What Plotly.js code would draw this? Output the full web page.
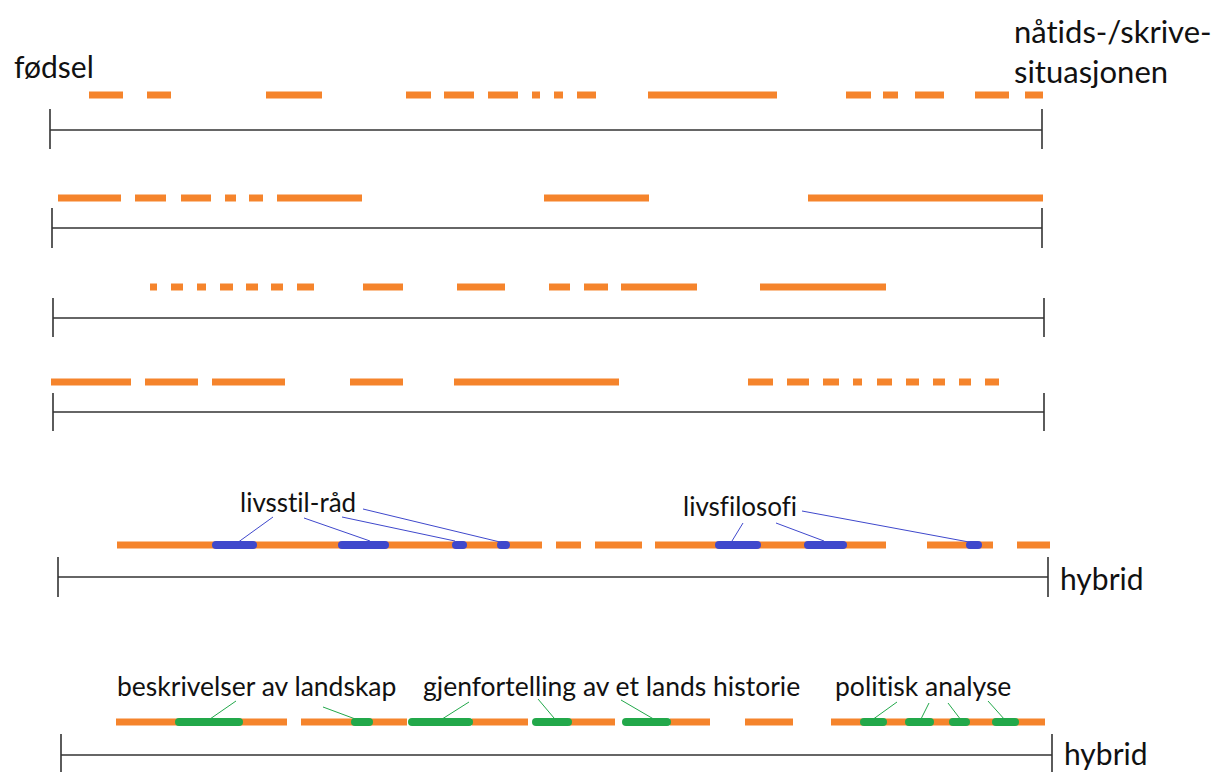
<!DOCTYPE html>
<html>
<head>
<meta charset="utf-8">
<script src="https://cdn.plot.ly/plotly-3.0.1.min.js"></script>
<style>html,body{margin:0;padding:0;background:#fff;}#chart{width:1222px;height:772px;}
text{font-variant-ligatures:none;font-feature-settings:"liga" 0;}</style>
</head>
<body>
<div id="chart"></div>
<script>
// ---- data ----
// timeline rows: axis span (birth -> now) and vertical levels
const rowAxisStart = [50, 52, 53, 53, 58, 61];
const rowAxisEnd   = [1042, 1042, 1044, 1044, 1048, 1052];
const rowAxisY     = [130, 228, 318, 412, 577, 755];
const rowTickTop   = [109, 208, 298, 393, 557, 734];
const rowTickBot   = [149, 248, 337, 431, 597, 772];
const rowDashY     = [95, 198, 287, 382, 545, 722];

// orange text-type segments per row [start, end]
const row1Segments = [[89,123],[147,171],[266,322],[406,431],[444,474],[488,518],[532,540],[554,563],[577,596],[648,777],[846,871],[883,898],[915,944],[975,1009],[1025,1043]];
const row2Segments = [[58,121],[135,166],[181,211],[225,236],[249,263],[277,362],[544,649],[808,1043]];
const row3Segments = [[150,157],[171,183],[197,206],[220,233],[246,258],[271,283],[297,314],[363,403],[457,505],[549,570],[584,608],[621,697],[760,886]];
const row4Segments = [[51,131],[145,198],[212,285],[350,403],[454,619],[748,773],[787,809],[823,839],[853,862],[877,892],[906,919],[933,945],[959,971],[985,999]];
const row5Segments = [[117,542],[556,581],[595,642],[655,886],[927,993],[1017,1050]];
const row6Segments = [[116,287],[301,407],[472,528],[569,615],[670,710],[745,793],[831,1045]];

// embedded genre segments
const livsstilSegments = [[216,253],[342,385],[456,463],[501,506]];
const livsfilosofiSegments = [[719,757],[808,843],[970,978]];
const landskapSegments = [[179,239],[355,369]];
const historieSegments = [[412,469],[536,568],[626,667]];
const politikkSegments = [[864,883],[909,930],[953,966],[996,1015]];

// leader lines [x0,y0,x1,y1]
const livsstilLeaders = [[273,517,237,543],[304,518,370,541],[342,517,455,541],[363,509,500,542]];
const livsfilosofiLeaders = [[743,523,732,541],[776,523,824,541],[802,511,969,542]];
const landskapLeaders = [[236,701,210,719],[323,707,358,720]];
const historieLeaders = [[469,702,439,721],[538,699,554,718],[621,700,657,721]];
const politikkLeaders = [[897,702,872,720],[929,703,921,719],[948,703,961,720],[988,701,1005,720]];

// labels [text, x, y, xanchor, size]
const labels = [
  ["fødsel", 12, 66, "left", 30],
  ["nåtids-/skrive-", 1012, 31, "left", 31],
  ["situasjonen", 1012, 71, "left", 31],
  ["livsstil-råd", 298, 502, "center", 26],
  ["livsfilosofi", 740, 506, "center", 26],
  ["hybrid", 1058, 578, "left", 30],
  ["beskrivelser av landskap", 256, 686, "center", 26.5],
  ["gjenfortelling av et lands historie", 611, 686, "center", 26.5],
  ["politisk analyse", 923, 686, "center", 26.5],
  ["hybrid", 1062, 753, "left", 30]
];

const ORANGE = "#F5842C";
const BLUE = "#3F48CC";
const GREEN = "#22A84A";
const AXIS = "#333333";

// ---- build traces ----
function segTrace(segs, y, color, width) {
  const xs = [], ys = [];
  segs.forEach(s => { xs.push(s[0], s[1], null); ys.push(y, y, null); });
  return {type: "scatter", mode: "lines", x: xs, y: ys, hoverinfo: "skip",
          line: {color: color, width: width}, showlegend: false};
}
function leaderTrace(lines, color) {
  const xs = [], ys = [];
  lines.forEach(l => { xs.push(l[0], l[2], null); ys.push(l[1], l[3], null); });
  return {type: "scatter", mode: "lines", x: xs, y: ys, hoverinfo: "skip",
          line: {color: color, width: 1}, showlegend: false};
}

const traces = [];
// axes
for (let i = 0; i < rowAxisY.length; i++) {
  traces.push({type: "scatter", mode: "lines",
    x: [rowAxisStart[i], rowAxisEnd[i], null, rowAxisStart[i], rowAxisStart[i], null, rowAxisEnd[i], rowAxisEnd[i]],
    y: [rowAxisY[i], rowAxisY[i], null, rowTickTop[i], rowTickBot[i], null, rowTickTop[i], rowTickBot[i]],
    line: {color: AXIS, width: 1.6}, hoverinfo: "skip", showlegend: false});
}
const allRows = [row1Segments, row2Segments, row3Segments, row4Segments, row5Segments, row6Segments];
allRows.forEach((segs, i) => traces.push(segTrace(segs, rowDashY[i], ORANGE, 7)));

traces.push(leaderTrace(livsstilLeaders, BLUE));
traces.push(leaderTrace(livsfilosofiLeaders, BLUE));
const roundStart = traces.length;
traces.push(segTrace(livsstilSegments, rowDashY[4], BLUE, 8));
traces.push(segTrace(livsfilosofiSegments, rowDashY[4], BLUE, 8));
traces.push(segTrace(landskapSegments, rowDashY[5], GREEN, 8));
traces.push(segTrace(historieSegments, rowDashY[5], GREEN, 8));
traces.push(segTrace(politikkSegments, rowDashY[5], GREEN, 8));
const roundEnd = traces.length;

traces.push(leaderTrace(landskapLeaders, GREEN));
traces.push(leaderTrace(historieLeaders, GREEN));
traces.push(leaderTrace(politikkLeaders, GREEN));

const annotations = labels.map(l => ({
  text: l[0], x: l[1], y: l[2], xref: "x", yref: "y", xanchor: l[3], yanchor: "middle",
  showarrow: false, font: {family: "Lato, 'Open Sans', sans-serif", size: l[4], color: "#111111"}
}));

const layout = {
  width: 1222, height: 772,
  margin: {l: 0, r: 0, t: 0, b: 0, pad: 0},
  paper_bgcolor: "#ffffff", plot_bgcolor: "#ffffff",
  xaxis: {range: [0, 1222], visible: false, fixedrange: true},
  yaxis: {range: [772, 0], visible: false, fixedrange: true},
  showlegend: false,
  annotations: annotations
};

Plotly.newPlot("chart", traces, layout, {staticPlot: true, displayModeBar: false}).then(gd => {
  const groups = gd.querySelectorAll(".scatterlayer .trace");
  for (let i = roundStart; i < roundEnd; i++) {
    if (groups[i]) groups[i].querySelectorAll("path.js-line").forEach(p => p.style.strokeLinecap = "round");
  }
});
</script>
</body>
</html>
